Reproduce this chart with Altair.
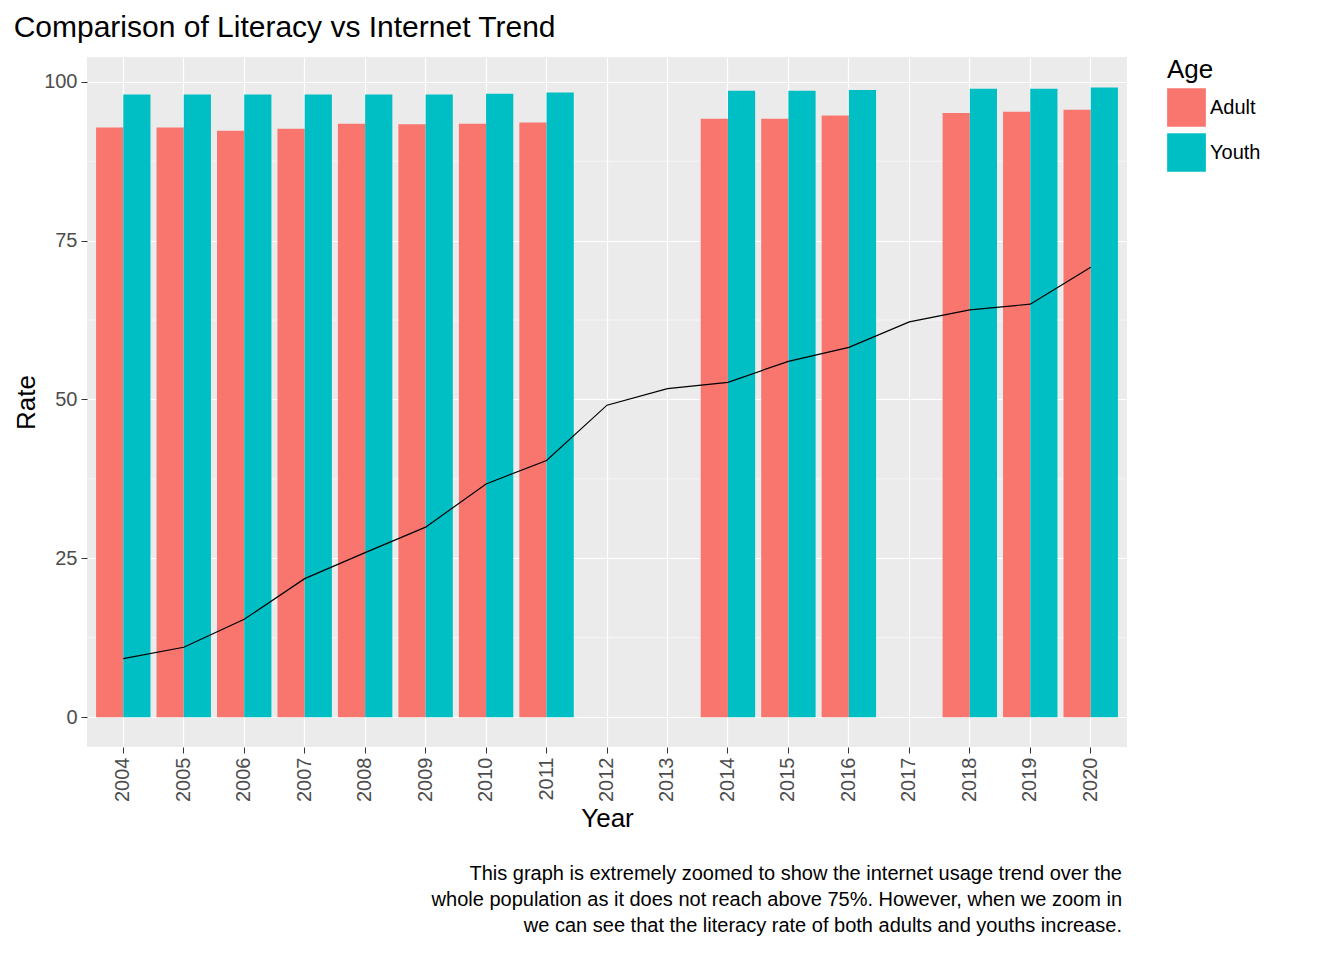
import altair as alt
import pandas as pd

years = [str(y) for y in range(2004, 2021)]
lit_years = ["2004", "2005", "2006", "2007", "2008", "2009", "2010", "2011",
             "2014", "2015", "2016", "2018", "2019", "2020"]
adult = [92.8, 92.8, 92.3, 92.6, 93.4, 93.3, 93.4, 93.6, 94.2, 94.2, 94.7, 95.1, 95.3, 95.6]
youth = [98.0, 98.0, 98.0, 98.0, 98.0, 98.0, 98.1, 98.3, 98.6, 98.6, 98.7, 98.9, 98.9, 99.1]
internet = [9.2, 11.0, 15.4, 21.8, 25.9, 29.9, 36.7, 40.4, 49.1, 51.7, 52.7,
            56.0, 58.2, 62.2, 64.1, 65.0, 70.8]
minor_grid = [12.5, 37.5, 62.5, 87.5]
caption = [
    "This graph is extremely zoomed to show the internet usage trend over the",
    "whole population as it does not reach above 75%. However, when we zoom in",
    "we can see that the literacy rate of both adults and youths increase.",
]

bars = pd.DataFrame({
    "Year": lit_years * 2,
    "Age": ["Adult"] * len(lit_years) + ["Youth"] * len(lit_years),
    "Rate": adult + youth,
})
line = pd.DataFrame({"Year": years, "Rate": internet})

W, H = 1040, 690
font = "Liberation Sans"
xscale = alt.Scale(domain=years, paddingInner=0.1, paddingOuter=0.15)
yscale = alt.Scale(domain=[-4.7, 103.9], nice=False, zero=False)
yaxis = alt.Axis(values=[0, 25, 50, 75, 100], grid=True, title="Rate")

minor = alt.Chart(pd.DataFrame({"v": minor_grid})).mark_rule(
    color="white", strokeWidth=0.6
).encode(y=alt.Y("v:Q", scale=yscale, axis=yaxis))

bar = alt.Chart(bars).mark_bar().encode(
    x=alt.X("Year:N", scale=xscale, title="Year",
            axis=alt.Axis(labelAngle=270, bandPosition=0.5, grid=True)),
    xOffset=alt.XOffset("Age:N"),
    y=alt.Y("Rate:Q", scale=yscale, axis=yaxis),
    y2=alt.datum(0),
    color=alt.Color("Age:N", title="Age",
                    scale=alt.Scale(domain=["Adult", "Youth"], range=["#F8766D", "#00BFC4"]),
                    legend=alt.Legend(symbolType="square", symbolSize=1500,
                                      symbolStrokeWidth=0, symbolOpacity=1)),
)

trend = alt.Chart(line).mark_line(color="black", strokeWidth=1.2).encode(
    x=alt.X("Year:N", scale=xscale),
    y=alt.Y("Rate:Q", scale=yscale, axis=yaxis),
)

cap_layers = [
    alt.Chart(pd.DataFrame({"text": [t]})).mark_text(
        align="right", baseline="middle", fontSize=20, font=font, color="black"
    ).encode(x=alt.value(W - 5), y=alt.value(H + 127 + 26 * i), text="text:N")
    for i, t in enumerate(caption)
]

chart = (
    alt.layer(minor, bar, trend, *cap_layers)
    .properties(
        width=W, height=H,
        title=alt.Title("Comparison of Literacy vs Internet Trend", anchor="start",
                        fontSize=30, font=font, fontWeight="normal", color="black",
                        offset=14),
        background="white",
    )
    .configure_view(fill="#EBEBEB", stroke=None)
    .configure_axis(
        gridColor="white", gridWidth=1.2, domain=False, tickColor="#333333",
        tickSize=6, labelColor="#4D4D4D", labelFontSize=20, labelFont=font,
        titleFont=font, titleFontSize=26, titleFontWeight="normal", titleColor="black",
        labelPadding=4,
    )
    .configure_legend(titleFont=font, titleFontSize=26, titleFontWeight="normal",
                      labelFont=font, labelFontSize=20, labelColor="black",
                      offset=40, rowPadding=6, orient="right")
)

chart.save("out.html", embed_options={"renderer": "svg", "actions": False})
